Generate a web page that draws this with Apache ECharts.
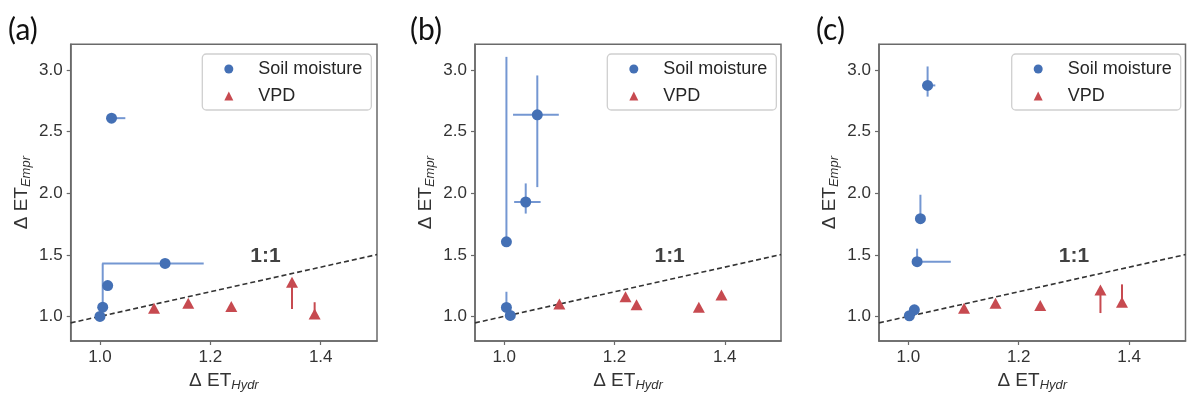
<!DOCTYPE html>
<html><head><meta charset="utf-8">
<script src="https://cdn.jsdelivr.net/npm/echarts@6/dist/echarts.min.js"></script>
<style>html,body{margin:0;padding:0;background:#fff}#c{width:1187px;height:397px}</style>
</head><body><div id="c"></div>
<script>
// ---- data ----
const xTicks = [1.0, 1.2, 1.4];
const yTicks = [1.0, 1.5, 2.0, 2.5, 3.0];
const xRange = [0.947, 1.502];
const yRange = [0.8, 3.21];
const seriesNames = ['Soil moisture', 'VPD'];
const panelLabels = ['(a)', '(b)', '(c)'];
// each point: [x, y, xLow, xHigh, yLow, yHigh]
const soilA = [
  [1.000, 1.000, 1.000, 1.000, 1.000, 1.000],
  [1.005, 1.075, 1.005, 1.005, 1.075, 1.430],
  [1.014, 1.250, 1.014, 1.014, 1.250, 1.250],
  [1.118, 1.430, 1.004, 1.188, 1.430, 1.430],
  [1.021, 2.610, 1.021, 1.046, 2.610, 2.610]
];
const vpdA = [
  [1.098, 1.067, 1.098, 1.098, 1.067, 1.067],
  [1.160, 1.107, 1.160, 1.160, 1.107, 1.107],
  [1.238, 1.080, 1.238, 1.238, 1.080, 1.080],
  [1.348, 1.277, 1.348, 1.348, 1.060, 1.277],
  [1.389, 1.020, 1.389, 1.389, 1.020, 1.115]
];
const soilB = [
  [1.004, 1.606, 1.004, 1.004, 1.606, 3.108],
  [1.039, 1.929, 1.018, 1.066, 1.835, 2.080],
  [1.060, 2.637, 1.016, 1.099, 2.050, 2.957],
  [1.004, 1.073, 1.004, 1.004, 1.073, 1.200],
  [1.011, 1.008, 1.011, 1.011, 1.008, 1.008]
];
const vpdB = [
  [1.100, 1.100, 1.100, 1.100, 1.100, 1.100],
  [1.220, 1.160, 1.220, 1.220, 1.160, 1.160],
  [1.240, 1.094, 1.240, 1.240, 1.094, 1.094],
  [1.353, 1.075, 1.353, 1.353, 1.075, 1.075],
  [1.394, 1.174, 1.394, 1.394, 1.174, 1.174]
];
const soilC = [
  [1.035, 2.876, 1.025, 1.049, 2.785, 3.030],
  [1.022, 1.794, 1.022, 1.022, 1.794, 1.988],
  [1.016, 1.444, 1.016, 1.077, 1.444, 1.550],
  [1.011, 1.053, 1.011, 1.011, 1.053, 1.053],
  [1.002, 1.005, 1.002, 1.002, 1.005, 1.005]
];
const vpdC = [
  [1.101, 1.067, 1.101, 1.101, 1.067, 1.067],
  [1.158, 1.107, 1.158, 1.158, 1.107, 1.107],
  [1.239, 1.089, 1.239, 1.239, 1.089, 1.089],
  [1.348, 1.215, 1.348, 1.348, 1.027, 1.215],
  [1.387, 1.115, 1.387, 1.387, 1.115, 1.260]
];
const soilSets = [soilA, soilB, soilC];
const vpdSets = [vpdA, vpdB, vpdC];
const oneToOneText = '1:1';

// ---- layout / style ----
const FONT = 'Liberation Sans, Arial, sans-serif';
const BLUE = '#4470B5', BLUE_ERR = '#7497D2', RED = '#C74A50';
const gridBoxes = [
  {left: 70.7, top: 44.3, width: 306.3, height: 299},
  {left: 475, top: 44.3, width: 306, height: 299},
  {left: 879, top: 44.3, width: 306.5, height: 299}
];
const legendPos = [{left: 202.3, top: 54}, {left: 607.3, top: 54}, {left: 1011.7, top: 54}];
const labelPos = [[8, 30], [410, 30], [816, 30]];
const oneToOnePos = [1.30, 1.49];

function errSeries(data, color, idx) {
  return {
    type: 'custom', xAxisIndex: idx, yAxisIndex: idx, data: data, silent: true, z: 2,
    encode: {x: 0, y: 1},
    renderItem: function (params, api) {
      const x = api.value(0), y = api.value(1);
      const xl = api.value(2), xh = api.value(3), yl = api.value(4), yh = api.value(5);
      const st = {stroke: color, lineWidth: 2};
      const ch = [];
      if (xh > xl) {
        const p1 = api.coord([xl, y]), p2 = api.coord([xh, y]);
        ch.push({type: 'line', shape: {x1: p1[0], y1: p1[1], x2: p2[0], y2: p2[1]}, style: st});
      }
      if (yh > yl) {
        const p1 = api.coord([x, yl]), p2 = api.coord([x, yh]);
        ch.push({type: 'line', shape: {x1: p1[0], y1: p1[1], x2: p2[0], y2: p2[1]}, style: st});
      }
      return {type: 'group', children: ch};
    }
  };
}

const nameRich = {
  a: {fontSize: 19, fontFamily: FONT, color: '#333', lineHeight: 22},
  b: {fontSize: 13, fontFamily: FONT, fontStyle: 'italic', color: '#333', lineHeight: 12, verticalAlign: 'bottom'}
};
const grids = [], xAxes = [], yAxes = [], series = [], legends = [], graphics = [];
for (let i = 0; i < 3; i++) {
  grids.push(Object.assign({show: true, borderColor: '#6a6a6a', borderWidth: 1.5, containLabel: false}, gridBoxes[i]));
  xAxes.push({
    type: 'value', gridIndex: i, min: xRange[0], max: xRange[1],
    axisLine: {show: true, onZero: false, lineStyle: {color: '#6a6a6a', width: 1.5}},
    axisTick: {show: true, customValues: xTicks, length: 4, lineStyle: {color: '#6a6a6a', width: 1.2}},
    axisLabel: {customValues: xTicks, formatter: v => v.toFixed(1), fontSize: 17, color: '#333', fontFamily: FONT, margin: 8},
    splitLine: {show: false},
    name: '{a|Δ ET}{b|Hydr}', nameLocation: 'middle', nameGap: 29,
    nameTextStyle: {rich: nameRich}
  });
  yAxes.push({
    type: 'value', gridIndex: i, min: yRange[0], max: yRange[1],
    axisLine: {show: true, onZero: false, lineStyle: {color: '#6a6a6a', width: 1.5}},
    axisTick: {show: true, customValues: yTicks, length: 4, lineStyle: {color: '#6a6a6a', width: 1.2}},
    axisLabel: {customValues: yTicks, formatter: v => v.toFixed(1), fontSize: 17, color: '#333', fontFamily: FONT, margin: 8},
    splitLine: {show: false},
    name: '{a|Δ ET}{b|Empr}', nameLocation: 'middle', nameRotate: 90, nameGap: 38,
    nameTextStyle: {rich: nameRich}
  });
  // 1:1 reference line y = x across the axis range
  series.push({
    type: 'line', xAxisIndex: i, yAxisIndex: i, silent: true, symbol: 'none', z: 1,
    data: [[xRange[0], xRange[0]], [xRange[1], xRange[1]]],
    lineStyle: {color: '#333', width: 1.6, type: [5, 3]}
  });
  series.push({
    type: 'scatter', xAxisIndex: i, yAxisIndex: i, silent: true, symbolSize: 1, z: 5,
    itemStyle: {color: 'rgba(0,0,0,0)'},
    data: [oneToOnePos],
    label: {show: true, position: 'inside', formatter: oneToOneText, fontSize: 21, fontWeight: 'bold', color: '#111', fontFamily: FONT}
  });
  series.push(errSeries(soilSets[i], BLUE_ERR, i));
  series.push(errSeries(vpdSets[i], RED, i));
  series.push({
    name: seriesNames[0], type: 'scatter', xAxisIndex: i, yAxisIndex: i, z: 3,
    symbol: 'circle', symbolSize: 11, itemStyle: {color: BLUE, opacity: 1},
    data: soilSets[i].map(p => [p[0], p[1]])
  });
  series.push({
    name: seriesNames[1], type: 'scatter', xAxisIndex: i, yAxisIndex: i, z: 3,
    symbol: 'triangle', symbolSize: [12, 11], itemStyle: {color: RED, opacity: 1},
    data: vpdSets[i].map(p => [p[0], p[1]])
  });
  legends.push({
    left: legendPos[i].left, top: legendPos[i].top, orient: 'vertical',
    data: [{name: seriesNames[0], icon: 'circle'}, {name: seriesNames[1], icon: 'triangle'}],
    itemWidth: 9, itemHeight: 9, itemGap: 7,
    padding: [5, 9, 4, 22],
    borderColor: '#cfcfcf', borderWidth: 1.3, borderRadius: 4,
    selectedMode: false,
    textStyle: {fontSize: 18, fontFamily: FONT, color: '#262626', lineHeight: 20, padding: [0, 0, 0, 20]}
  });
  graphics.push({
    type: 'text', x: labelPos[i][0], y: labelPos[i][1],
    style: {text: panelLabels[i], font: '30px Lato, "Open Sans", sans-serif', fill: '#111', textVerticalAlign: 'middle'}
  });
}

const chart = echarts.init(document.getElementById('c'), null, {renderer: 'canvas'});
chart.setOption({
  animation: false,
  backgroundColor: '#fff',
  grid: grids, xAxis: xAxes, yAxis: yAxes, series: series, legend: legends, graphic: graphics
});
</script></body></html>
